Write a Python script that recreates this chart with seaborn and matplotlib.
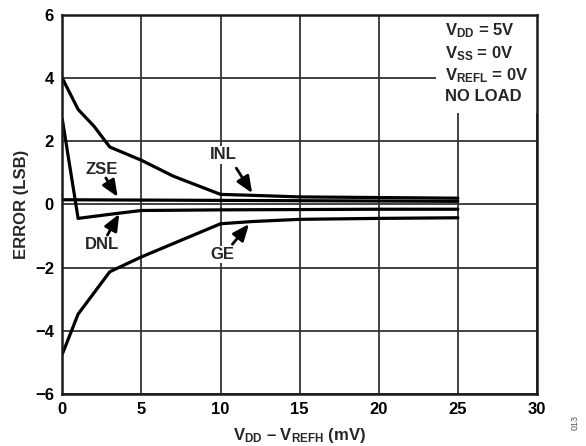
import matplotlib
matplotlib.use("Agg")
import matplotlib.pyplot as plt
import seaborn as sns
import pandas as pd

# Error versus reference headroom (V_DD - V_REFH), in LSB
inl_x = [0, 1, 2, 3, 5, 7, 10, 12, 15, 20, 25]
inl_y = [4.0, 3.01, 2.48, 1.82, 1.40, 0.90, 0.32, 0.29, 0.24, 0.22, 0.20]

zse_x = [0, 5, 10, 15, 20, 25]
zse_y = [0.15, 0.14, 0.13, 0.12, 0.11, 0.10]

dnl_x = [0, 1, 3.5, 5, 10, 15, 20, 25]
dnl_y = [2.7, -0.44, -0.28, -0.19, -0.17, -0.16, -0.15, -0.15]

ge_x = [0, 1, 3, 5, 7, 10, 12, 15, 20, 25]
ge_y = [-4.74, -3.47, -2.13, -1.66, -1.24, -0.61, -0.54, -0.47, -0.44, -0.42]

x_ticks = [0, 5, 10, 15, 20, 25, 30]
y_ticks = [-6, -4, -2, 0, 2, 4, 6]

frames = []
for name, xs, ys in [("INL", inl_x, inl_y), ("ZSE", zse_x, zse_y),
                     ("DNL", dnl_x, dnl_y), ("GE", ge_x, ge_y)]:
    frames.append(pd.DataFrame({"x": xs, "y": ys, "series": name}))
data = pd.concat(frames, ignore_index=True)

sns.set_style("white")
plt.rcParams["font.family"] = ["Liberation Sans", "DejaVu Sans"]
plt.rcParams["font.weight"] = "bold"
plt.rcParams["mathtext.fontset"] = "custom"
plt.rcParams["mathtext.rm"] = "Liberation Sans:bold"
plt.rcParams["mathtext.bf"] = "Liberation Sans:bold"
plt.rcParams["mathtext.it"] = "Liberation Sans:bold"
plt.rcParams["mathtext.default"] = "rm"

fig = plt.figure(figsize=(5.86, 4.46), dpi=100)
ax = fig.add_axes([0.1063, 0.1166, 0.8101, 0.8498])

sns.lineplot(data=data, x="x", y="y", units="series", estimator=None,
             color="black", linewidth=2.3, sort=False, ax=ax, zorder=3,
             legend=False)

ax.set_xlim(0, 30)
ax.set_ylim(-6, 6)
ax.set_xticks(x_ticks)
ax.set_yticks(y_ticks)
ax.tick_params(axis="both", length=0, pad=6, labelsize=12, colors="black")
for lbl in ax.get_xticklabels() + ax.get_yticklabels():
    lbl.set_fontweight("bold")

ax.grid(True, color="#333333", linewidth=1.3)
ax.set_axisbelow(True)
for sp in ax.spines.values():
    sp.set_visible(True)
    sp.set_color("#1a1a1a")
    sp.set_linewidth(1.8)
    sp.set_zorder(5)

ax.set_xlabel(r"V$_{DD}$ – V$_{REFH}$ (mV)", fontsize=12,
              fontweight="bold", labelpad=6)
ax.set_ylabel("ERROR (LSB)", fontsize=12, fontweight="bold", labelpad=4)

# Curve callouts
label_box = dict(facecolor="white", edgecolor="none", pad=1.0)
arrow = dict(arrowstyle="-|>,head_length=1.0,head_width=0.42",
             color="black", linewidth=2.0, shrinkA=0, shrinkB=0)
callouts = [
    ("INL", (10.15, 1.57), (11.0, 1.15), (12.0, 0.36)),
    ("ZSE", (2.48, 1.11), (2.75, 0.84), (3.5, 0.24)),
    ("DNL", (2.48, -1.26), (2.85, -0.97), (3.6, -0.30)),
    ("GE", (10.13, -1.58), (10.75, -1.26), (11.8, -0.62)),
]
for text, tpos, astart, atip in callouts:
    ax.text(*tpos, text, ha="center", va="center", fontsize=12,
            fontweight="bold", bbox=label_box, zorder=4)
    ax.annotate("", xy=atip, xytext=astart, arrowprops=arrow, zorder=4)

# Test conditions
cond = (r"V$_{DD}$ = 5V" "\n" r"V$_{SS}$ = 0V" "\n"
        r"V$_{REFL}$ = 0V" "\n" "NO LOAD")
ax.text(24.2, 5.8, cond, ha="left", va="top", fontsize=12,
        fontweight="bold", linespacing=1.28, zorder=4,
        bbox=dict(facecolor="white", edgecolor="none", pad=6.5))

fig.text(0.981, 0.035, "013", rotation=90, ha="center", va="bottom",
         fontsize=6.5, color="#555555", fontweight="normal")

fig.savefig("out.png", dpi=100, facecolor="white")
